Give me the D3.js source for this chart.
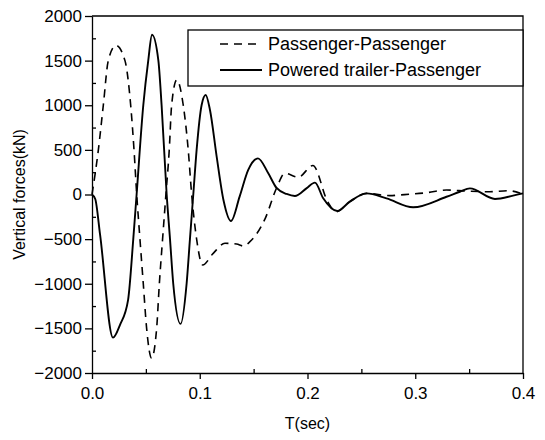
<!DOCTYPE html>
<html>
<head>
<meta charset="utf-8">
<script src="https://cdn.jsdelivr.net/npm/d3@7"></script>
<style>
  body { margin: 0; background: #fff; }
  text { font-family: "Liberation Sans", Arial, sans-serif; fill: #000; }
</style>
</head>
<body>
<div id="chart"></div>
<script>
// time (sec) and force (kN)
var timePP = [0, 0.0059, 0.0105, 0.0151, 0.0222, 0.0306, 0.0359, 0.039, 0.0415, 0.0445, 0.0476, 0.0507, 0.0553,
  0.06, 0.0625, 0.0655, 0.0686, 0.0717, 0.0739, 0.0787, 0.0847, 0.0893, 0.0925, 0.0971, 0.1027, 0.1125,
  0.1234, 0.1342, 0.1404, 0.1466, 0.1608, 0.1713, 0.179, 0.1914, 0.205, 0.2187, 0.2264, 0.2393, 0.255,
  0.2764, 0.2857, 0.3105, 0.329, 0.3476, 0.3692, 0.3862, 0.4];
var forcePP = [0, 500, 1000, 1500, 1670, 1500, 1000, 500, 0, -500, -1000, -1500, -1835,
  -1500, -1000, -500, 0, 500, 1000, 1285, 1000, 500, 0, -500, -790, -659,
  -547, -555, -577, -528, -267, 73, 238, 193, 325, -80, -193, -80, 13,
  -13, -5, 20, 50, 39, 31, 43, 2];

var timePT = [0, 0.003, 0.0075, 0.0195, 0.026, 0.0335, 0.0383, 0.0414, 0.0476, 0.0522, 0.0557, 0.0616, 0.0646,
  0.0693, 0.0724, 0.0754, 0.0822, 0.0878, 0.0909, 0.094, 0.0971, 0.1017, 0.1055, 0.1095, 0.1157, 0.122,
  0.129, 0.137, 0.145, 0.154, 0.1636, 0.1713, 0.1806, 0.1883, 0.199, 0.2069, 0.2146, 0.2276, 0.2393,
  0.2548, 0.2733, 0.298, 0.329, 0.3414, 0.3507, 0.374, 0.3908, 0.4];
var forcePT = [0, -50, -450, -1604, -1460, -1180, -500, 0, 1000, 1500, 1790, 1500, 1000,
  0, -500, -1000, -1450, -1000, -500, 0, 500, 1000, 1115, 947, 424, -62,
  -297, -24, 275, 405, 238, 73, 6, -17, 69, 133, -43, -185, -80,
  13, -43, -143, -25, 31, 69, -50, -13, 13];

var seriesNames = ["Passenger-Passenger", "Powered trailer-Passenger"];
var xTicks = [0, 0.1, 0.2, 0.3, 0.4];
var yTicks = [-2000, -1500, -1000, -500, 0, 500, 1000, 1500, 2000];

var attrs = {
  svgWidth: 545,
  svgHeight: 440,
  marginTop: 16,
  marginBottom: 67,
  marginRight: 22,
  marginLeft: 92
};

var calc = {};
calc.chartWidth = attrs.svgWidth - attrs.marginLeft - attrs.marginRight;
calc.chartHeight = attrs.svgHeight - attrs.marginTop - attrs.marginBottom;

var scales = {};
scales.x = d3.scaleLinear().domain([0, 0.4]).range([0, calc.chartWidth]);
scales.y = d3.scaleLinear().domain([-2000, 2000]).range([calc.chartHeight, 0]);

var svg = d3.select("#chart").append("svg")
  .attr("width", attrs.svgWidth)
  .attr("height", attrs.svgHeight);

var chart = svg.append("g")
  .attr("transform", "translate(" + attrs.marginLeft + "," + attrs.marginTop + ")");

// minor ticks point inward
var minorX = d3.range(0.05, 0.4, 0.1);
var minorY = d3.range(-1750, 2000, 500);

chart.append("g")
  .attr("transform", "translate(0," + calc.chartHeight + ")")
  .call(d3.axisBottom(scales.x).tickValues(minorX).tickSize(-4).tickFormat(""))
  .call(g => g.select(".domain").remove());
chart.append("g")
  .call(d3.axisLeft(scales.y).tickValues(minorY).tickSize(-4).tickFormat(""))
  .call(g => g.select(".domain").remove());

// major axes
var bottomAxis = chart.append("g")
  .attr("transform", "translate(0," + calc.chartHeight + ")")
  .call(d3.axisBottom(scales.x).tickValues(xTicks).tickSize(6).tickSizeOuter(0).tickPadding(8)
    .tickFormat(d3.format(".1f")));
bottomAxis.selectAll("text").attr("font-size", 17);

var leftAxis = chart.append("g")
  .call(d3.axisLeft(scales.y).tickValues(yTicks).tickSize(7).tickSizeOuter(0).tickPadding(3)
    .tickFormat(d3.format("d")));
leftAxis.selectAll("text").attr("font-size", 17);

svg.selectAll(".tick line, .domain").attr("stroke", "#000").attr("stroke-width", 1.3);
svg.selectAll(".tick text").style("font-family", "'Liberation Sans', Arial, sans-serif");

// frame top and right
chart.append("path")
  .attr("d", "M0,0H" + calc.chartWidth + "V" + calc.chartHeight)
  .attr("fill", "none")
  .attr("stroke", "#000")
  .attr("stroke-width", 1.3);

var line = d3.line()
  .x(d => scales.x(d[0]))
  .y(d => scales.y(d[1]))
  .curve(d3.curveMonotoneX);

var dataPP = timePP.map((t, i) => [t, forcePP[i]]);
var dataPT = timePT.map((t, i) => [t, forcePT[i]]);

chart.append("path")
  .datum(dataPP)
  .attr("d", line)
  .attr("fill", "none")
  .attr("stroke", "#000")
  .attr("stroke-width", 1.6)
  .attr("stroke-dasharray", "8,6");

chart.append("path")
  .datum(dataPT)
  .attr("d", line)
  .attr("fill", "none")
  .attr("stroke", "#000")
  .attr("stroke-width", 1.9);

// legend
var legend = chart.append("g")
  .attr("transform", "translate(" + (188 - attrs.marginLeft) + "," + (30 - attrs.marginTop) + ")");
legend.append("rect")
  .attr("width", calc.chartWidth - (188 - attrs.marginLeft))
  .attr("height", 56)
  .attr("fill", "#fff")
  .attr("stroke", "#000")
  .attr("stroke-width", 1.3);

seriesNames.forEach(function (name, i) {
  var y = 14 + i * 26;
  legend.append("line")
    .attr("x1", 32).attr("x2", 74)
    .attr("y1", y).attr("y2", y)
    .attr("stroke", "#000")
    .attr("stroke-width", i === 0 ? 1.6 : 1.9)
    .attr("stroke-dasharray", i === 0 ? "8,6" : null);
  legend.append("text")
    .attr("x", 80)
    .attr("y", y + 6)
    .attr("font-size", 18)
    .text(name);
});

// axis titles
svg.append("text")
  .attr("x", attrs.marginLeft + calc.chartWidth / 2)
  .attr("y", 429)
  .attr("text-anchor", "middle")
  .attr("font-size", 16)
  .text("T(sec)");

svg.append("text")
  .attr("transform", "translate(25," + (attrs.marginTop + calc.chartHeight / 2) + ") rotate(-90)")
  .attr("text-anchor", "middle")
  .attr("font-size", 16)
  .text("Vertical forces(kN)");
</script>
</body>
</html>
